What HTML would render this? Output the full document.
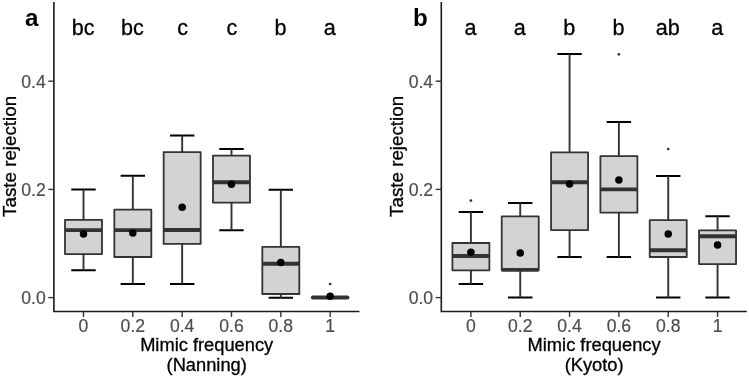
<!DOCTYPE html>
<html><head><meta charset="utf-8"><title>Taste rejection</title>
<style>
html,body{margin:0;padding:0;background:#fff}
svg{display:block;opacity:0.999;will-change:transform}
text{font-family:"Liberation Sans",Arial,Helvetica,sans-serif}
.tick{font-size:17.6px;fill:#4d4d4d;stroke:#4d4d4d;stroke-width:0.2px}
.let{font-size:21.6px;fill:#000;stroke:#000;stroke-width:0.3px}
.ttl{font-size:18.3px;fill:#000;stroke:#000;stroke-width:0.3px}
.pl{font-size:24.2px;font-weight:bold;fill:#000}
</style></head><body>
<svg width="749" height="377" viewBox="0 0 749 377">
<rect width="749" height="377" fill="#fff"/>
<path d="M53.90 2 V311.5 H359.40" fill="none" stroke="#1a1a1a" stroke-width="1.6"/>
<path d="M48.30 297.60 H53.90" stroke="#333" stroke-width="1.4"/>
<text x="45.70" y="303.95" text-anchor="end" class="tick">0.0</text>
<path d="M48.30 189.40 H53.90" stroke="#333" stroke-width="1.4"/>
<text x="45.70" y="195.75" text-anchor="end" class="tick">0.2</text>
<path d="M48.30 81.20 H53.90" stroke="#333" stroke-width="1.4"/>
<text x="45.70" y="87.55" text-anchor="end" class="tick">0.4</text>
<path d="M83.50 311.5 V316.90" stroke="#333" stroke-width="1.4"/>
<text x="83.50" y="331.60" text-anchor="middle" class="tick">0</text>
<path d="M132.83 311.5 V316.90" stroke="#333" stroke-width="1.4"/>
<text x="132.83" y="331.60" text-anchor="middle" class="tick">0.2</text>
<path d="M182.16 311.5 V316.90" stroke="#333" stroke-width="1.4"/>
<text x="182.16" y="331.60" text-anchor="middle" class="tick">0.4</text>
<path d="M231.49 311.5 V316.90" stroke="#333" stroke-width="1.4"/>
<text x="231.49" y="331.60" text-anchor="middle" class="tick">0.6</text>
<path d="M280.82 311.5 V316.90" stroke="#333" stroke-width="1.4"/>
<text x="280.82" y="331.60" text-anchor="middle" class="tick">0.8</text>
<path d="M330.15 311.5 V316.90" stroke="#333" stroke-width="1.4"/>
<text x="330.15" y="331.60" text-anchor="middle" class="tick">1</text>
<text x="83.10" y="35.2" text-anchor="middle" class="let">bc</text>
<text x="132.43" y="35.2" text-anchor="middle" class="let">bc</text>
<text x="182.56" y="35.2" text-anchor="middle" class="let">c</text>
<text x="231.89" y="35.2" text-anchor="middle" class="let">c</text>
<text x="280.42" y="35.2" text-anchor="middle" class="let">b</text>
<text x="329.75" y="35.2" text-anchor="middle" class="let">a</text>
<path d="M71.30 189.50 H95.70 M71.30 270.20 H95.70" stroke="#000" stroke-width="2.0" fill="none"/>
<path d="M83.50 189.50 V219.95 M83.50 254.10 V270.20" stroke="#333333" stroke-width="1.9" fill="none"/>
<rect x="65.00" y="219.95" width="37" height="34.15" fill="#d3d3d3" stroke="#333333" stroke-width="1.8" stroke-linejoin="round"/>
<path d="M65.00 230.10 H102.00" stroke="#333333" stroke-width="3.9"/>
<circle cx="83.50" cy="234.00" r="3.75" fill="#000"/>
<path d="M120.63 175.77 H145.03 M120.63 283.98 H145.03" stroke="#000" stroke-width="2.0" fill="none"/>
<path d="M132.83 175.77 V209.70 M132.83 257.00 V283.98" stroke="#333333" stroke-width="1.9" fill="none"/>
<rect x="114.33" y="209.70" width="37" height="47.30" fill="#d3d3d3" stroke="#333333" stroke-width="1.8" stroke-linejoin="round"/>
<path d="M114.33 230.10 H151.33" stroke="#333333" stroke-width="3.9"/>
<circle cx="132.83" cy="233.10" r="3.75" fill="#000"/>
<path d="M169.96 135.50 H194.36 M169.96 284.00 H194.36" stroke="#000" stroke-width="2.0" fill="none"/>
<path d="M182.16 135.50 V152.10 M182.16 243.90 V284.00" stroke="#333333" stroke-width="1.9" fill="none"/>
<rect x="163.66" y="152.10" width="37" height="91.80" fill="#d3d3d3" stroke="#333333" stroke-width="1.8" stroke-linejoin="round"/>
<path d="M163.66 230.05 H200.66" stroke="#333333" stroke-width="3.9"/>
<circle cx="182.16" cy="207.15" r="3.75" fill="#000"/>
<path d="M219.29 149.00 H243.69 M219.29 230.20 H243.69" stroke="#000" stroke-width="2.0" fill="none"/>
<path d="M231.49 149.00 V155.70 M231.49 202.70 V230.20" stroke="#333333" stroke-width="1.9" fill="none"/>
<rect x="212.99" y="155.70" width="37" height="47.00" fill="#d3d3d3" stroke="#333333" stroke-width="1.8" stroke-linejoin="round"/>
<path d="M212.99 182.30 H249.99" stroke="#333333" stroke-width="3.9"/>
<circle cx="231.49" cy="184.20" r="3.75" fill="#000"/>
<path d="M268.62 189.70 H293.02 M268.62 297.70 H293.02" stroke="#000" stroke-width="2.0" fill="none"/>
<path d="M280.82 189.70 V246.90 M280.82 294.00 V297.70" stroke="#333333" stroke-width="1.9" fill="none"/>
<rect x="262.32" y="246.90" width="37" height="47.10" fill="#d3d3d3" stroke="#333333" stroke-width="1.8" stroke-linejoin="round"/>
<path d="M262.32 263.70 H299.32" stroke="#333333" stroke-width="3.9"/>
<circle cx="280.82" cy="262.60" r="3.75" fill="#000"/>
<circle cx="330.15" cy="284.00" r="1.35" fill="#333"/>
<path d="M317.95 297.50 H342.35 M317.95 297.50 H342.35" stroke="#000" stroke-width="2.0" fill="none"/>
<path d="M330.15 297.50 V297.50 M330.15 297.50 V297.50" stroke="#333333" stroke-width="1.9" fill="none"/>
<path d="M312.95 297.50 H347.35" stroke="#333333" stroke-width="4.2" stroke-linecap="round"/>
<circle cx="330.15" cy="296.30" r="3.75" fill="#000"/>
<text x="206.70" y="351.0" text-anchor="middle" class="ttl">Mimic frequency</text>
<text x="206.70" y="370.6" text-anchor="middle" class="ttl">(Nanning)</text>
<text transform="translate(15.80 156.4) rotate(-90)" text-anchor="middle" class="ttl" style="font-size:18.8px">Taste rejection</text>
<text x="25.10" y="25.8" class="pl">a</text>
<path d="M441.30 2 V311.5 H746.80" fill="none" stroke="#1a1a1a" stroke-width="1.6"/>
<path d="M435.70 297.60 H441.30" stroke="#333" stroke-width="1.4"/>
<text x="433.10" y="303.95" text-anchor="end" class="tick">0.0</text>
<path d="M435.70 189.40 H441.30" stroke="#333" stroke-width="1.4"/>
<text x="433.10" y="195.75" text-anchor="end" class="tick">0.2</text>
<path d="M435.70 81.20 H441.30" stroke="#333" stroke-width="1.4"/>
<text x="433.10" y="87.55" text-anchor="end" class="tick">0.4</text>
<path d="M470.90 311.5 V316.90" stroke="#333" stroke-width="1.4"/>
<text x="470.90" y="331.60" text-anchor="middle" class="tick">0</text>
<path d="M520.23 311.5 V316.90" stroke="#333" stroke-width="1.4"/>
<text x="520.23" y="331.60" text-anchor="middle" class="tick">0.2</text>
<path d="M569.56 311.5 V316.90" stroke="#333" stroke-width="1.4"/>
<text x="569.56" y="331.60" text-anchor="middle" class="tick">0.4</text>
<path d="M618.89 311.5 V316.90" stroke="#333" stroke-width="1.4"/>
<text x="618.89" y="331.60" text-anchor="middle" class="tick">0.6</text>
<path d="M668.22 311.5 V316.90" stroke="#333" stroke-width="1.4"/>
<text x="668.22" y="331.60" text-anchor="middle" class="tick">0.8</text>
<path d="M717.55 311.5 V316.90" stroke="#333" stroke-width="1.4"/>
<text x="717.55" y="331.60" text-anchor="middle" class="tick">1</text>
<text x="470.50" y="35.2" text-anchor="middle" class="let">a</text>
<text x="519.83" y="35.2" text-anchor="middle" class="let">a</text>
<text x="569.16" y="35.2" text-anchor="middle" class="let">b</text>
<text x="618.49" y="35.2" text-anchor="middle" class="let">b</text>
<text x="667.82" y="35.2" text-anchor="middle" class="let">ab</text>
<text x="717.15" y="35.2" text-anchor="middle" class="let">a</text>
<circle cx="470.90" cy="200.60" r="1.35" fill="#333"/>
<path d="M458.70 211.90 H483.10 M458.70 284.10 H483.10" stroke="#000" stroke-width="2.0" fill="none"/>
<path d="M470.90 211.90 V243.00 M470.90 270.30 V284.10" stroke="#333333" stroke-width="1.9" fill="none"/>
<rect x="452.40" y="243.00" width="37" height="27.30" fill="#d3d3d3" stroke="#333333" stroke-width="1.8" stroke-linejoin="round"/>
<path d="M452.40 256.05 H489.40" stroke="#333333" stroke-width="3.9"/>
<circle cx="470.90" cy="252.30" r="3.75" fill="#000"/>
<path d="M508.03 203.10 H532.43 M508.03 297.50 H532.43" stroke="#000" stroke-width="2.0" fill="none"/>
<path d="M520.23 203.10 V216.30 M520.23 270.20 V297.50" stroke="#333333" stroke-width="1.9" fill="none"/>
<rect x="501.73" y="216.30" width="37" height="53.90" fill="#d3d3d3" stroke="#333333" stroke-width="1.8" stroke-linejoin="round"/>
<path d="M501.73 269.90 H538.73" stroke="#333333" stroke-width="3.9"/>
<circle cx="520.23" cy="253.00" r="3.75" fill="#000"/>
<path d="M557.36 54.05 H581.76 M557.36 257.00 H581.76" stroke="#000" stroke-width="2.0" fill="none"/>
<path d="M569.56 54.05 V152.30 M569.56 230.10 V257.00" stroke="#333333" stroke-width="1.9" fill="none"/>
<rect x="551.06" y="152.30" width="37" height="77.80" fill="#d3d3d3" stroke="#333333" stroke-width="1.8" stroke-linejoin="round"/>
<path d="M551.06 182.30 H588.06" stroke="#333333" stroke-width="3.9"/>
<circle cx="569.56" cy="184.10" r="3.75" fill="#000"/>
<circle cx="618.89" cy="54.30" r="1.35" fill="#333"/>
<path d="M606.69 121.90 H631.09 M606.69 257.00 H631.09" stroke="#000" stroke-width="2.0" fill="none"/>
<path d="M618.89 121.90 V156.10 M618.89 212.70 V257.00" stroke="#333333" stroke-width="1.9" fill="none"/>
<rect x="600.39" y="156.10" width="37" height="56.60" fill="#d3d3d3" stroke="#333333" stroke-width="1.8" stroke-linejoin="round"/>
<path d="M600.39 189.40 H637.39" stroke="#333333" stroke-width="3.9"/>
<circle cx="618.89" cy="180.10" r="3.75" fill="#000"/>
<circle cx="668.22" cy="149.00" r="1.35" fill="#333"/>
<path d="M656.02 176.00 H680.42 M656.02 297.50 H680.42" stroke="#000" stroke-width="2.0" fill="none"/>
<path d="M668.22 176.00 V220.10 M668.22 257.00 V297.50" stroke="#333333" stroke-width="1.9" fill="none"/>
<rect x="649.72" y="220.10" width="37" height="36.90" fill="#d3d3d3" stroke="#333333" stroke-width="1.8" stroke-linejoin="round"/>
<path d="M649.72 250.20 H686.72" stroke="#333333" stroke-width="3.9"/>
<circle cx="668.22" cy="233.90" r="3.75" fill="#000"/>
<path d="M705.35 216.30 H729.75 M705.35 297.50 H729.75" stroke="#000" stroke-width="2.0" fill="none"/>
<path d="M717.55 216.30 V230.30 M717.55 264.10 V297.50" stroke="#333333" stroke-width="1.9" fill="none"/>
<rect x="699.05" y="230.30" width="37" height="33.80" fill="#d3d3d3" stroke="#333333" stroke-width="1.8" stroke-linejoin="round"/>
<path d="M699.05 236.30 H736.05" stroke="#333333" stroke-width="3.9"/>
<circle cx="717.55" cy="245.00" r="3.75" fill="#000"/>
<text x="594.10" y="351.0" text-anchor="middle" class="ttl">Mimic frequency</text>
<text x="594.10" y="370.6" text-anchor="middle" class="ttl">(Kyoto)</text>
<text transform="translate(403.20 156.4) rotate(-90)" text-anchor="middle" class="ttl" style="font-size:18.8px">Taste rejection</text>
<text x="413.00" y="25.8" class="pl">b</text>
</svg>
</body></html>
